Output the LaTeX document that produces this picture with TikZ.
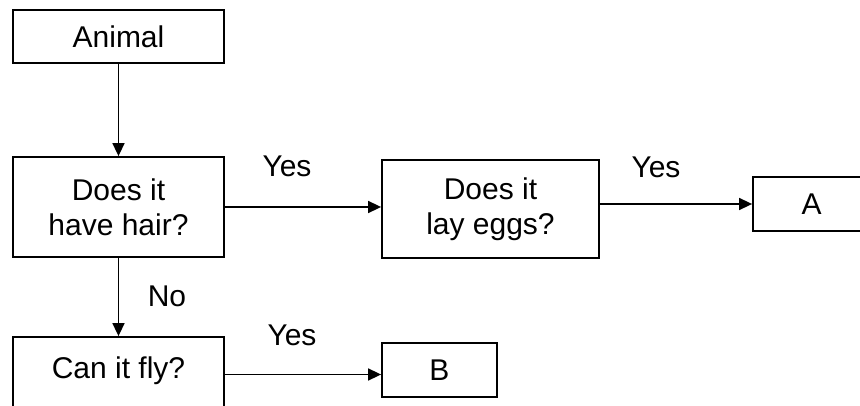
\documentclass[tikz,border=0pt]{standalone}
\usepackage{fontspec}
\setmainfont{Liberation Sans}
\usetikzlibrary{arrows.meta}
\begin{document}
\begin{tikzpicture}[x=1pt,y=-1pt,
  box/.style={draw, line width=1.8pt, inner sep=0pt, align=center, font=\fontsize{30pt}{35pt}\selectfont},
  single/.style={text height=21.5pt, text depth=0pt},
  lbl/.style={inner sep=0pt, anchor=base, font=\fontsize{30pt}{35pt}\selectfont},
  arr/.style={line width=1.6pt, -{Triangle[length=13pt,width=12pt]}}]
\useasboundingbox (0,0) rectangle (860,406);
\node[box, single, minimum width=211pt, minimum height=53pt] (animal) at (118.5,36.5) {Animal};
\node[box, minimum width=211pt, minimum height=100pt] (hair) at (118.5,207) {Does it\\have hair?};
\node[box, minimum width=217pt, minimum height=98pt] (eggs) at (490.5,209) {Does it\\lay eggs?};
\node[box, single, minimum width=117pt, minimum height=54pt] (a) at (811.5,204) {A};
\node[box, minimum width=211pt, minimum height=75pt, text height=21.5pt, text depth=14.5pt] (fly) at (118.5,374.5) {Can it fly?};
\node[box, single, minimum width=115pt, minimum height=54pt] (b) at (439.5,370) {B};
\draw[arr] (animal) -- (hair);
\draw[arr] (hair) -- (fly);
\draw[arr] (hair.east) -- (hair.east -| eggs.west);
\draw[arr] (eggs.east |- a.west) -- (a.west);
\draw[arr] (fly.east) -- (fly.east -| b.west);
\node[lbl] (yes1) at (287,177) {Yes};
\node[lbl] (yes2) at (656,178) {Yes};
\node[lbl] (yes3) at (292,345) {Yes};
\node[lbl] (no) at (167,307) {No};
\end{tikzpicture}
\end{document}
